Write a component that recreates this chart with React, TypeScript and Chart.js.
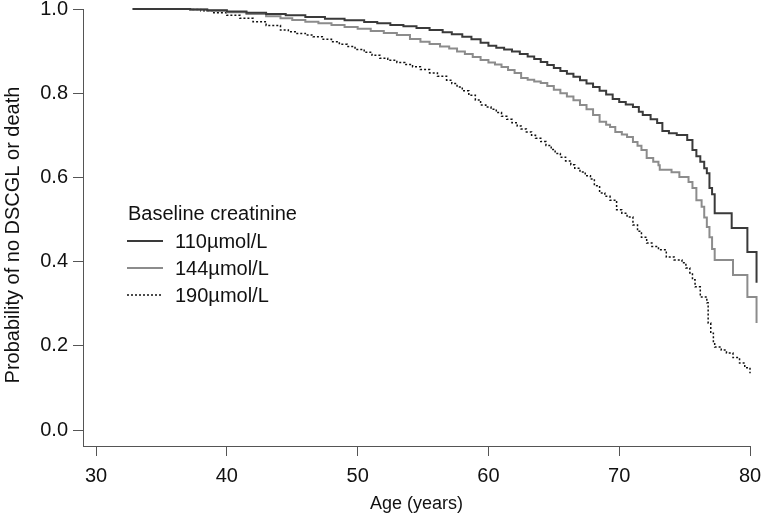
import { useEffect, useRef } from "react";
import { Chart, registerables } from "chart.js";

Chart.register(...registerables);

// ---- data ----
const ages110 = [32.8, 35, 37.2, 38.5, 40, 41.5, 43, 44.5, 46, 47.5, 49, 50.5, 51.5, 52.5, 53.5, 54.5, 55.5, 56.5, 57.2, 58, 58.7, 59.4, 60, 60.6, 61.2, 61.8, 62.4, 63, 63.5, 64, 64.5, 65, 65.5, 66, 66.5, 67, 67.5, 68, 68.5, 69, 69.5, 70, 70.5, 71.05, 71.5, 71.8, 72.4, 72.9, 73.3, 73.8, 74.4, 75.2, 75.6, 75.9, 76.2, 76.5, 76.7, 76.9, 77.1, 77.3, 78.6, 79.8, 80.5];
const surv110 = [1.0, 1.0, 0.999, 0.997, 0.994, 0.991, 0.988, 0.985, 0.981, 0.977, 0.973, 0.969, 0.966, 0.962, 0.959, 0.955, 0.95, 0.945, 0.94, 0.934, 0.928, 0.92, 0.913, 0.908, 0.904, 0.899, 0.893, 0.887, 0.881, 0.874, 0.867, 0.86, 0.853, 0.846, 0.839, 0.831, 0.823, 0.815, 0.806, 0.797, 0.786, 0.779, 0.773, 0.767, 0.756, 0.748, 0.738, 0.729, 0.71, 0.705, 0.701, 0.689, 0.665, 0.65, 0.637, 0.622, 0.61, 0.575, 0.56, 0.515, 0.48, 0.423, 0.35];

const ages144 = [32.8, 35, 37.2, 38.5, 40, 41.5, 43, 44.1, 45, 46, 47, 48, 49, 50, 51, 52, 53, 54, 54.8, 55.5, 56.3, 57, 57.6, 58.2, 58.8, 59.4, 60, 60.5, 61, 61.5, 62, 62.5, 63, 63.5, 64, 64.5, 65, 65.5, 66, 66.5, 67, 67.5, 68, 68.5, 69, 69.3, 69.7, 70.2, 70.6, 71.05, 71.4, 71.7, 72.1, 72.6, 73.0, 73.1, 74, 74.6, 75.3, 75.6, 75.9, 76.3, 76.5, 76.7, 76.9, 77.1, 77.3, 78.7, 79.8, 80.5];
const surv144 = [1.0, 1.0, 0.999, 0.996, 0.992, 0.988, 0.983, 0.978, 0.974, 0.97, 0.966, 0.962, 0.957, 0.953, 0.948, 0.943, 0.938, 0.929, 0.922, 0.917, 0.911, 0.906, 0.899, 0.893, 0.886, 0.879, 0.873, 0.868, 0.862, 0.855, 0.848, 0.836, 0.832, 0.828, 0.824, 0.817, 0.808, 0.8, 0.792, 0.783, 0.772, 0.762, 0.748, 0.732, 0.725, 0.72, 0.708, 0.702, 0.696, 0.684, 0.675, 0.665, 0.646, 0.637, 0.629, 0.618, 0.612, 0.601, 0.589, 0.575, 0.546, 0.53, 0.505, 0.482, 0.458, 0.43, 0.404, 0.368, 0.316, 0.254];

const ages190 = [32.8, 35, 37.2, 38, 39, 40, 41, 42, 43, 44.1, 44.7, 45.3, 46, 46.6, 47.3, 48, 48.6, 49.2, 49.8, 50.5, 51.1, 51.7, 52.3, 53, 53.6, 54.2, 54.8, 55.5, 56.1, 56.8, 57.2, 57.6, 58, 58.5, 59, 59.4, 59.8, 60.2, 60.6, 61, 61.4, 61.8, 62.2, 62.5, 62.9, 63.3, 63.6, 64, 64.4, 64.8, 65.1, 65.5, 65.9, 66.3, 66.6, 67, 67.4, 67.8, 68.1, 68.5, 68.9, 69.3, 69.8, 70.2, 70.6, 71.05, 71.4, 71.7, 72.1, 72.5, 73.0, 73.6, 74.2, 74.8, 75.1, 75.4, 75.6, 75.8, 76.2, 76.7, 76.8, 77.0, 77.2, 77.3, 77.8, 78.2, 78.7, 79.2, 79.6, 80.0, 80.3, 80.5];
const surv190 = [1.0, 1.0, 0.999, 0.996, 0.991, 0.985, 0.978, 0.97, 0.961, 0.95, 0.946, 0.942, 0.938, 0.934, 0.928, 0.922, 0.916, 0.911, 0.904, 0.897, 0.89, 0.883, 0.878, 0.873, 0.868, 0.863, 0.856, 0.848, 0.84, 0.831, 0.823, 0.815, 0.806, 0.795, 0.784, 0.772, 0.767, 0.762, 0.754, 0.745, 0.738, 0.73, 0.722, 0.715, 0.708, 0.7, 0.693, 0.685, 0.676, 0.666, 0.657, 0.648, 0.639, 0.63, 0.622, 0.613, 0.604, 0.596, 0.58, 0.563, 0.555, 0.546, 0.523, 0.515, 0.506, 0.487, 0.472, 0.458, 0.444, 0.436, 0.428, 0.411, 0.404, 0.397, 0.385, 0.373, 0.357, 0.34, 0.316, 0.302, 0.254, 0.23, 0.207, 0.197, 0.19, 0.183, 0.172, 0.159, 0.148, 0.135, 0.122, 0.107];

const seriesLabels = ["110µmol/L", "144µmol/L", "190µmol/L"];
const legendTitle = "Baseline creatinine";
const xTicks = [30, 40, 50, 60, 70, 80];
const yTicks = [0, 0.2, 0.4, 0.6, 0.8, 1.0];
const xTitle = "Age (years)";
const yTitle = "Probability of no DSCGL or death";

const FONT = '"Liberation Sans", Arial, Helvetica, sans-serif';
const TEXT = "#111111";
const AXIS = "#555555";

const toPoints = (xs: number[], ys: number[]) => xs.map((x, i) => ({ x, y: ys[i] }));

const overlayPlugin = {
  id: "overlayText",
  afterDraw(chart: any) {
    const ctx = chart.ctx as CanvasRenderingContext2D;
    ctx.save();
    // y axis title
    ctx.fillStyle = TEXT;
    ctx.font = `20px ${FONT}`;
    ctx.textAlign = "center";
    ctx.textBaseline = "middle";
    ctx.translate(13, 235);
    ctx.rotate(-Math.PI / 2);
    ctx.fillText(yTitle, 0, 0);
    ctx.restore();

    // legend
    ctx.save();
    ctx.font = `20px ${FONT}`;
    ctx.fillStyle = TEXT;
    ctx.textAlign = "left";
    ctx.textBaseline = "middle";
    ctx.fillText(legendTitle, 128, 214);
    chart.data.datasets.forEach((ds: any, i: number) => {
      const y = 241 + i * 27;
      ctx.beginPath();
      ctx.strokeStyle = ds.borderColor;
      ctx.lineWidth = ds.borderWidth;
      ctx.setLineDash(ds.borderDash || []);
      ctx.moveTo(127, y);
      ctx.lineTo(163, y);
      ctx.stroke();
      ctx.setLineDash([]);
      ctx.fillText(ds.label, 175, y + 1);
    });
    ctx.restore();
  },
};

export default function App() {
  const ref = useRef<HTMLCanvasElement | null>(null);
  useEffect(() => {
    if (!ref.current) return;
    const chart = new Chart(ref.current, {
      type: "line",
      data: {
        datasets: [
          {
            label: seriesLabels[0],
            data: toPoints(ages110, surv110),
            borderColor: "#3a3a3a",
            borderWidth: 2,
            stepped: "before",
            pointRadius: 0,
            fill: false,
            clip: false,
          } as any,
          {
            label: seriesLabels[1],
            data: toPoints(ages144, surv144),
            borderColor: "#8c8c8c",
            borderWidth: 2,
            stepped: "before",
            pointRadius: 0,
            fill: false,
            clip: false,
          } as any,
          {
            label: seriesLabels[2],
            data: toPoints(ages190, surv190),
            borderColor: "#111111",
            borderWidth: 1.5,
            borderDash: [2, 2],
            stepped: "before",
            pointRadius: 0,
            fill: false,
            clip: false,
          } as any,
        ],
      },
      options: {
        responsive: false,
        animation: false,
        events: [],
        layout: { padding: { top: 9, right: 12, left: 0, bottom: 0 } },
        plugins: { legend: { display: false }, tooltip: { enabled: false } },
        scales: {
          x: {
            type: "linear",
            min: 29,
            max: 80,
            afterBuildTicks: (s: any) => {
              s.ticks = xTicks.map((v) => ({ value: v }));
            },
            afterFit: (s: any) => {
              s.height = 69;
              s.paddingLeft = 0;
              s.paddingRight = 0;
            },
            grid: { drawOnChartArea: false, drawTicks: true, tickLength: 10, tickColor: AXIS, tickWidth: 1 },
            border: { display: true, color: AXIS, width: 1 },
            ticks: {
              padding: 8,
              color: TEXT,
              font: { family: FONT, size: 20 },
              maxRotation: 0,
              autoSkip: false,
              callback: (v: any) => String(v),
            },
            title: {
              display: true,
              text: xTitle,
              color: TEXT,
              font: { family: FONT, size: 18 },
              padding: { top: 0, bottom: 0 },
            },
          },
          y: {
            type: "linear",
            min: -0.038,
            max: 1.0,
            afterBuildTicks: (s: any) => {
              s.ticks = yTicks.map((v) => ({ value: v }));
            },
            afterFit: (s: any) => {
              s.width = 83;
              s.paddingTop = 0;
              s.paddingBottom = 0;
            },
            grid: { drawOnChartArea: false, drawTicks: true, tickLength: 10, tickColor: AXIS, tickWidth: 1 },
            border: { display: true, color: AXIS, width: 1 },
            ticks: {
              padding: 5,
              color: TEXT,
              font: { family: FONT, size: 20 },
              callback: (v: any) => Number(v).toFixed(1),
            },
          },
        },
      },
      plugins: [overlayPlugin],
    });
    return () => chart.destroy();
  }, []);
  return (
    <div style={{ position: "fixed", left: 0, top: 0, width: 762, height: 515, background: "#fff" }}>
      <canvas ref={ref} width={762} height={515} style={{ display: "block" }} />
    </div>
  );
}
